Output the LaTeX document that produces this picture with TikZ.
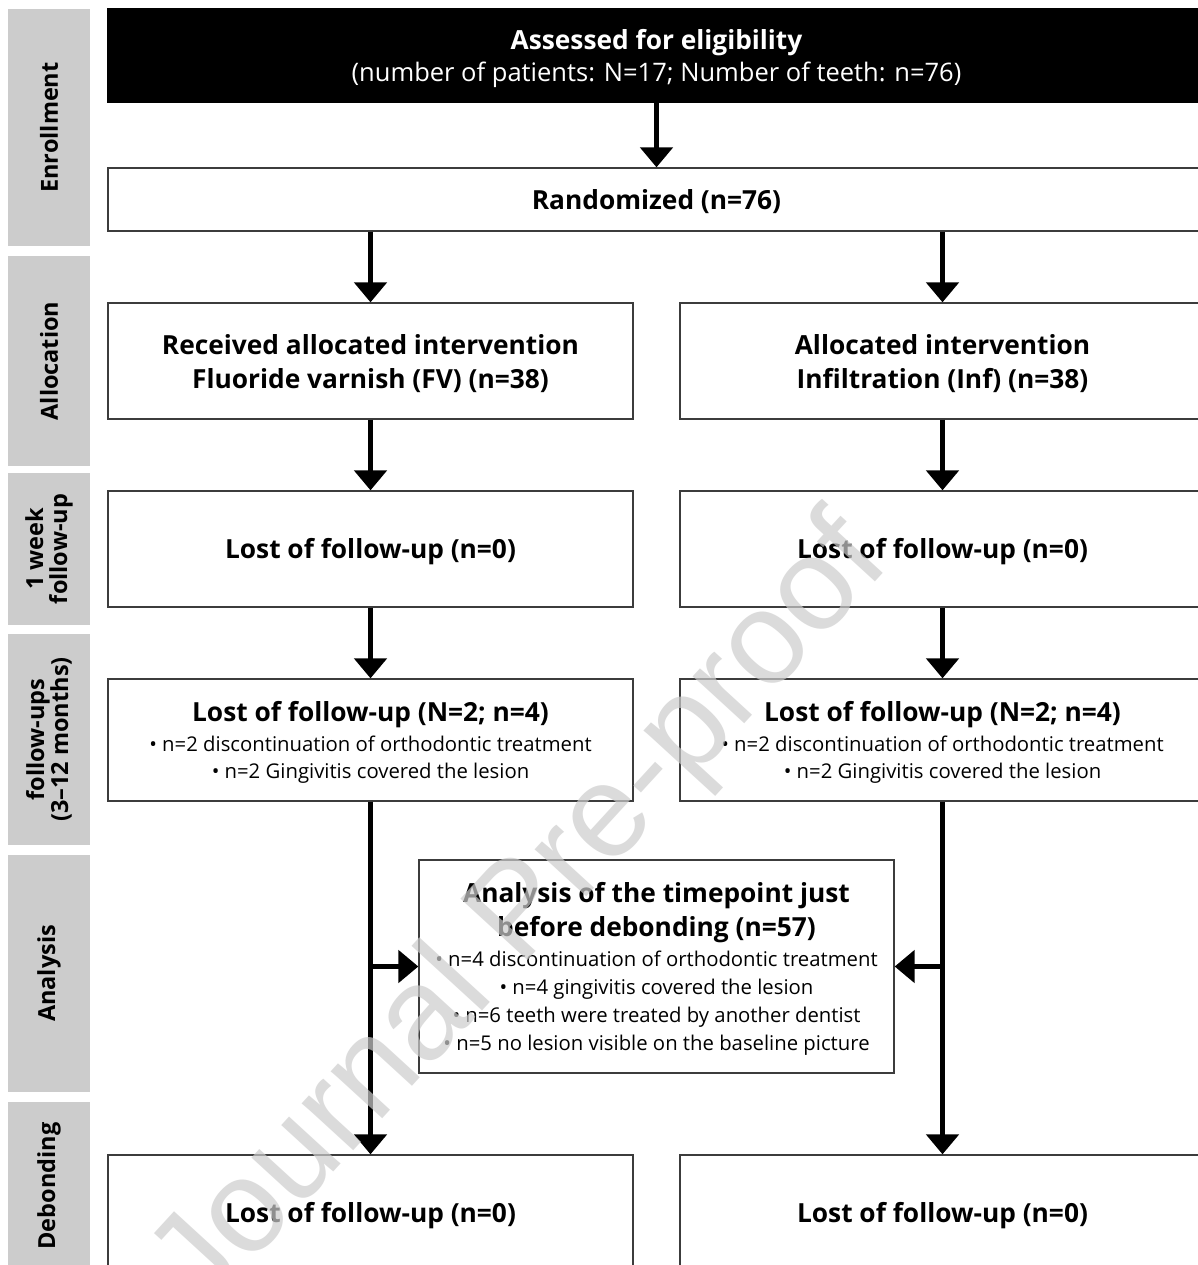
\documentclass[tikz,border=0pt]{standalone}
\usepackage{fontspec}
\setmainfont{Open Sans}
\newfontfamily\wmfont{Liberation Sans}
\usetikzlibrary{arrows.meta}
\definecolor{labgray}{RGB}{204,204,204}
\definecolor{boxline}{RGB}{60,60,60}
\begin{document}
\begin{tikzpicture}[x=1pt,y=1pt,
  box/.style={draw=boxline,line width=1.3pt,fill=white,inner sep=0pt},
  arr/.style={line width=5pt,-{Triangle[width=32pt,length=20pt]}},
  ttl/.style={font=\bfseries\fontsize{26.3}{30}\selectfont,anchor=mid,inner sep=0pt},
  itm/.style={font=\fontsize{20.3}{24}\selectfont,anchor=mid,inner sep=0pt},
  lab/.style={fill=labgray,rotate=90,minimum height=82pt,inner sep=0pt,align=center,
              font=\bfseries\fontsize{23.5}{24}\selectfont}]
\useasboundingbox (0,0) rectangle (1197,-1265);
\fill[white] (0,0) rectangle (1197,-1265);

% side labels
\node[lab,minimum width=237pt] (L1) at (49,-127.5) {Enrollment};
\node[lab,minimum width=210pt] (L2) at (49,-361) {Allocation};
\node[lab,minimum width=152pt] (L3) at (49,-549) {1 week\\follow-up};
\node[lab,minimum width=211pt] (L4) at (49,-739.5) {follow-ups\\(3–12 months)};
\node[lab,minimum width=237pt] (L5) at (49,-973.5) {Analysis};
\node[lab,minimum width=168pt] (L6) at (49,-1186) {Debonding};

% boxes
\node[box,fill=black,draw=black,minimum width=1097pt,minimum height=93pt] (elig) at (656.5,-55.5) {};
\node[ttl,text=white] (eligA) at (656.5,-47) {Assessed for eligibility};
\node[itm,text=white,font=\fontsize{25.5}{28}\selectfont] (eligB) at (656.5,-79) {(number of patients: N=17; Number of teeth: n=76)};

\node[box,minimum width=1097pt,minimum height=63pt] (rand) at (656.5,-199.5) {};
\node[ttl] (randT) at (656.5,-207) {Randomized (n=76)};

\node[box,minimum width=525pt,minimum height=116pt] (al) at (370.5,-361) {};
\node[box,minimum width=525pt,minimum height=116pt] (ar) at (942.5,-361) {};
\node[ttl] (alA) at (370.5,-352) {Received allocated intervention};
\node[ttl] (alB) at (370.5,-386) {Fluoride varnish (FV) (n=38)};
\node[ttl] (arA) at (942.5,-352) {Allocated intervention};
\node[ttl] (arB) at (942.5,-386) {Infiltration (Inf) (n=38)};

\node[box,minimum width=525pt,minimum height=116pt] (wl) at (370.5,-549) {};
\node[box,minimum width=525pt,minimum height=116pt] (wr) at (942.5,-549) {};
\node[ttl] (wlT) at (370.5,-556) {Lost of follow-up (n=0)};
\node[ttl] (wrT) at (942.5,-556) {Lost of follow-up (n=0)};

\node[box,minimum width=525pt,minimum height=122pt] (fl) at (370.5,-740) {};
\node[box,minimum width=525pt,minimum height=122pt] (fr) at (942.5,-740) {};
\node[ttl] (flT) at (370.5,-719) {Lost of follow-up (N=2; n=4)};
\node[itm] (flA) at (370.5,-749) {• n=2 discontinuation of orthodontic treatment};
\node[itm] (flB) at (370.5,-776) {• n=2 Gingivitis covered the lesion};
\node[ttl] (frT) at (942.5,-719) {Lost of follow-up (N=2; n=4)};
\node[itm] (frA) at (942.5,-749) {• n=2 discontinuation of orthodontic treatment};
\node[itm] (frB) at (942.5,-776) {• n=2 Gingivitis covered the lesion};

\node[box,minimum width=475pt,minimum height=213pt] (an) at (656.5,-966.5) {};
\node[ttl] (anA) at (656.5,-900) {Analysis of the timepoint just};
\node[ttl] (anB) at (656.5,-934) {before debonding (n=57)};
\node[itm] (an1) at (656.5,-964) {• n=4 discontinuation of orthodontic treatment};
\node[itm] (an2) at (656.5,-992) {• n=4 gingivitis covered the lesion};
\node[itm] (an3) at (656.5,-1020) {• n=6 teeth were treated by another dentist};
\node[itm] (an4) at (656.5,-1048) {• n=5 no lesion visible on the baseline picture};

\node[box,minimum width=525pt,minimum height=116pt] (dl) at (370.5,-1213) {};
\node[box,minimum width=525pt,minimum height=116pt] (dr) at (942.5,-1213) {};
\node[ttl] (dlT) at (370.5,-1220) {Lost of follow-up (n=0)};
\node[ttl] (drT) at (942.5,-1220) {Lost of follow-up (n=0)};

% connectors
\draw[arr] (elig.south) -- (rand.north);
\draw[arr] (rand.south -| al.north) -- (al.north);
\draw[arr] (rand.south -| ar.north) -- (ar.north);
\draw[arr] (al.south) -- (wl.north);
\draw[arr] (ar.south) -- (wr.north);
\draw[arr] (wl.south) -- (fl.north);
\draw[arr] (wr.south) -- (fr.north);
\draw[arr] (fl.south) -- (dl.north);
\draw[arr] (fr.south) -- (dr.north);
\draw[arr] (fl.south |- an.west) -- (an.west);
\draw[arr] (fr.south |- an.east) -- (an.east);

% watermark
\node[font=\wmfont\fontsize{132}{132}\selectfont,text=black!20,opacity=0.7,rotate=47.5,anchor=mid] (wm) at (546,-937) {Journal Pre-proof};
\end{tikzpicture}
\end{document}
